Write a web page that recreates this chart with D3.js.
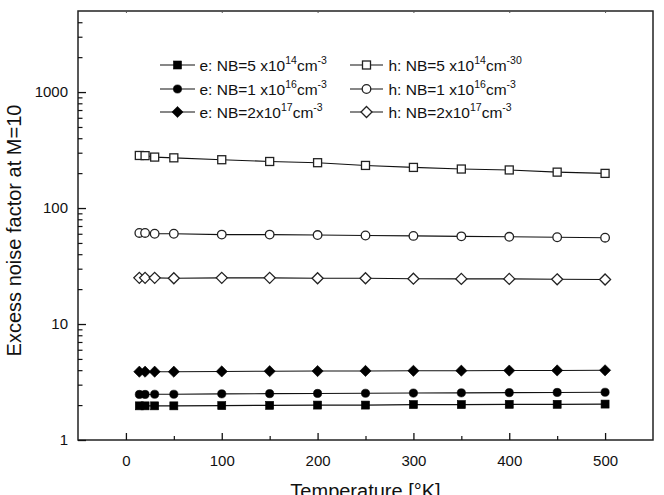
<!DOCTYPE html>
<html>
<head>
<meta charset="utf-8">
<script src="https://cdn.jsdelivr.net/npm/d3@7"></script>
<style>
  html, body { margin: 0; padding: 0; background: #fff; }
  svg { display: block; font-family: "Liberation Sans", Arial, sans-serif; }
</style>
</head>
<body>
<svg id="chart" width="664" height="495"></svg>
<script>
// ---- data ----
const temperature = [14, 20, 30, 50, 100, 150, 200, 250, 300, 350, 400, 450, 500];
const eNB5e14 = [1.97, 1.97, 1.97, 1.97, 1.98, 1.99, 2.0, 2.0, 2.02, 2.02, 2.03, 2.03, 2.04];
const eNB1e16 = [2.47, 2.47, 2.48, 2.48, 2.5, 2.51, 2.52, 2.53, 2.54, 2.55, 2.56, 2.57, 2.58];
const eNB2e17 = [3.88, 3.88, 3.88, 3.88, 3.9, 3.92, 3.93, 3.94, 3.95, 3.96, 3.97, 3.98, 3.99];
const hNB5e14 = [284, 283, 275, 271, 261, 252, 246, 233, 224, 217, 213, 204, 199];
const hNB1e16 = [61, 61, 60, 60, 59, 59, 58.5, 58, 57.5, 57, 56.5, 56, 55.5];
const hNB2e17 = [25, 25, 25, 24.8, 25, 25, 24.8, 24.8, 24.6, 24.5, 24.5, 24.3, 24.2];

const xTicks = [0, 100, 200, 300, 400, 500];
const xMinorTicks = [50, 150, 250, 350, 450];
const yTicks = [1, 10, 100, 1000];
const yMinorTicks = [2,3,4,5,6,7,8,9,20,30,40,50,60,70,80,90,200,300,400,500,600,700,800,900,2000,3000,4000];

const xLabel = "Temperature [°K]";
const yLabel = "Excess noise factor at M=10";

const seriesDefs = [
  { name: "e5e14", values: eNB5e14, marker: "square",  filled: true,  text: ["e: NB=5 x10", "14", "-3"] },
  { name: "e1e16", values: eNB1e16, marker: "circle",  filled: true,  text: ["e: NB=1 x10", "16", "-3"] },
  { name: "e2e17", values: eNB2e17, marker: "diamond", filled: true,  text: ["e: NB=2x10", "17", "-3"] },
  { name: "h5e14", values: hNB5e14, marker: "square",  filled: false, text: ["h: NB=5 x10", "14", "-30"] },
  { name: "h1e16", values: hNB1e16, marker: "circle",  filled: false, text: ["h: NB=1 x10", "16", "-3"] },
  { name: "h2e17", values: hNB2e17, marker: "diamond", filled: false, text: ["h: NB=2x10", "17", "-3"] }
];

// ---- layout ----
const L = 78, R = 653, T = 11, B = 440;
const svg = d3.select("#chart");

const x = d3.scaleLinear().domain([-50, 550]).range([L, R]);
const y = d3.scaleLog().domain([1, 5000]).range([B, T]);

// frame
svg.append("rect")
  .attr("x", L).attr("y", T).attr("width", R - L).attr("height", B - T)
  .attr("fill", "none").attr("stroke", "#222").attr("stroke-width", 1.5);

// x axis (ticks inward)
const gx = svg.append("g").attr("transform", `translate(0,${B})`)
  .call(d3.axisBottom(x).tickValues(xTicks).tickFormat(d3.format("d"))
    .tickSizeInner(-7).tickSizeOuter(0).tickPadding(15));
gx.select(".domain").remove();
gx.selectAll(".tick line").attr("stroke", "#111").attr("stroke-width", 1.3);
gx.selectAll(".tick text").attr("font-size", 15).attr("fill", "#111")
  .attr("font-family", "Liberation Sans, Arial, sans-serif");

const gxm = svg.append("g").attr("transform", `translate(0,${B})`)
  .call(d3.axisBottom(x).tickValues(xMinorTicks).tickFormat("")
    .tickSizeInner(-4).tickSizeOuter(0));
gxm.select(".domain").remove();
gxm.selectAll(".tick line").attr("stroke", "#111").attr("stroke-width", 1.2);

// tiny top ticks
const gxt = svg.append("g").attr("transform", `translate(0,${T})`)
  .call(d3.axisTop(x).tickValues(xTicks).tickFormat("").tickSizeInner(-2).tickSizeOuter(0));
gxt.select(".domain").remove();
gxt.selectAll(".tick line").attr("stroke", "#555").attr("stroke-width", 1);

// y axis (ticks inward)
const gy = svg.append("g").attr("transform", `translate(${L},0)`)
  .call(d3.axisLeft(y).tickValues(yTicks).tickFormat(d3.format("d"))
    .tickSizeInner(-8).tickSizeOuter(0).tickPadding(10));
gy.select(".domain").remove();
gy.selectAll(".tick line").attr("stroke", "#111").attr("stroke-width", 1.3);
gy.selectAll(".tick text").attr("font-size", 15).attr("fill", "#111")
  .attr("font-family", "Liberation Sans, Arial, sans-serif");

const gym = svg.append("g").attr("transform", `translate(${L},0)`)
  .call(d3.axisLeft(y).tickValues(yMinorTicks).tickFormat("")
    .tickSizeInner(-4.5).tickSizeOuter(0));
gym.select(".domain").remove();
gym.selectAll(".tick line").attr("stroke", "#111").attr("stroke-width", 1.2);

// axis titles
svg.append("text")
  .attr("x", (L + R) / 2).attr("y", 498)
  .attr("text-anchor", "middle").attr("font-size", 20).attr("fill", "#111")
  .text(xLabel);
svg.append("text")
  .attr("transform", `translate(21,${230.5}) rotate(-90)`)
  .attr("text-anchor", "middle").attr("font-size", 20).attr("fill", "#111")
  .text(yLabel);

// ---- markers ----
function drawMarker(g, type, filled, cx, cy) {
  const fill = filled ? "#000" : "#fff";
  const stroke = filled ? "#000" : "#222";
  if (type === "square") {
    g.append("rect").attr("x", cx - 4).attr("y", cy - 4).attr("width", 8).attr("height", 8)
      .attr("fill", fill).attr("stroke", stroke).attr("stroke-width", filled ? 0.6 : 1.3);
  } else if (type === "circle") {
    g.append("circle").attr("cx", cx).attr("cy", cy).attr("r", filled ? 4.1 : 4.3)
      .attr("fill", fill).attr("stroke", stroke).attr("stroke-width", filled ? 0.6 : 1.3);
  } else {
    const r = filled ? 5.6 : 5.5;
    g.append("path")
      .attr("d", `M${cx},${cy - r}L${cx + r},${cy}L${cx},${cy + r}L${cx - r},${cy}Z`)
      .attr("fill", fill).attr("stroke", stroke).attr("stroke-width", filled ? 0.6 : 1.3);
  }
}

const line = d3.line().x(d => x(d[0])).y(d => y(d[1]));

seriesDefs.forEach(s => {
  const pts = temperature.map((t, i) => [t, s.values[i]]);
  const g = svg.append("g").attr("class", "series " + s.name);
  g.append("path").datum(pts).attr("d", line)
    .attr("fill", "none").attr("stroke", "#111").attr("stroke-width", 1.1);
  pts.forEach(p => drawMarker(g, s.marker, s.filled, x(p[0]), y(p[1])));
});

// ---- legend ----
const legendCols = [{ lx0: 160, lx1: 195, mx: 177.5, tx: 199.5 }, { lx0: 350, lx1: 383, mx: 366.5, tx: 388.5 }];
const legendRows = [65, 89, 112];
seriesDefs.forEach((s, i) => {
  const col = legendCols[Math.floor(i / 3)];
  const cy = legendRows[i % 3];
  const g = svg.append("g").attr("class", "legend-item");
  g.append("line").attr("x1", col.lx0).attr("x2", col.lx1).attr("y1", cy).attr("y2", cy)
    .attr("stroke", "#111").attr("stroke-width", 1.1);
  drawMarker(g, s.marker, s.filled, col.mx, cy);
  const t = g.append("text").attr("x", col.tx).attr("y", cy + 5.5)
    .attr("font-size", 15.5).attr("fill", "#111");
  t.append("tspan").text(s.text[0]);
  t.append("tspan").attr("dy", -6.5).attr("font-size", 10.5).text(s.text[1]);
  t.append("tspan").attr("dy", 6.5).text("cm");
  t.append("tspan").attr("dy", -6.5).attr("font-size", 10.5).text(s.text[2]);
});
</script>
</body>
</html>
